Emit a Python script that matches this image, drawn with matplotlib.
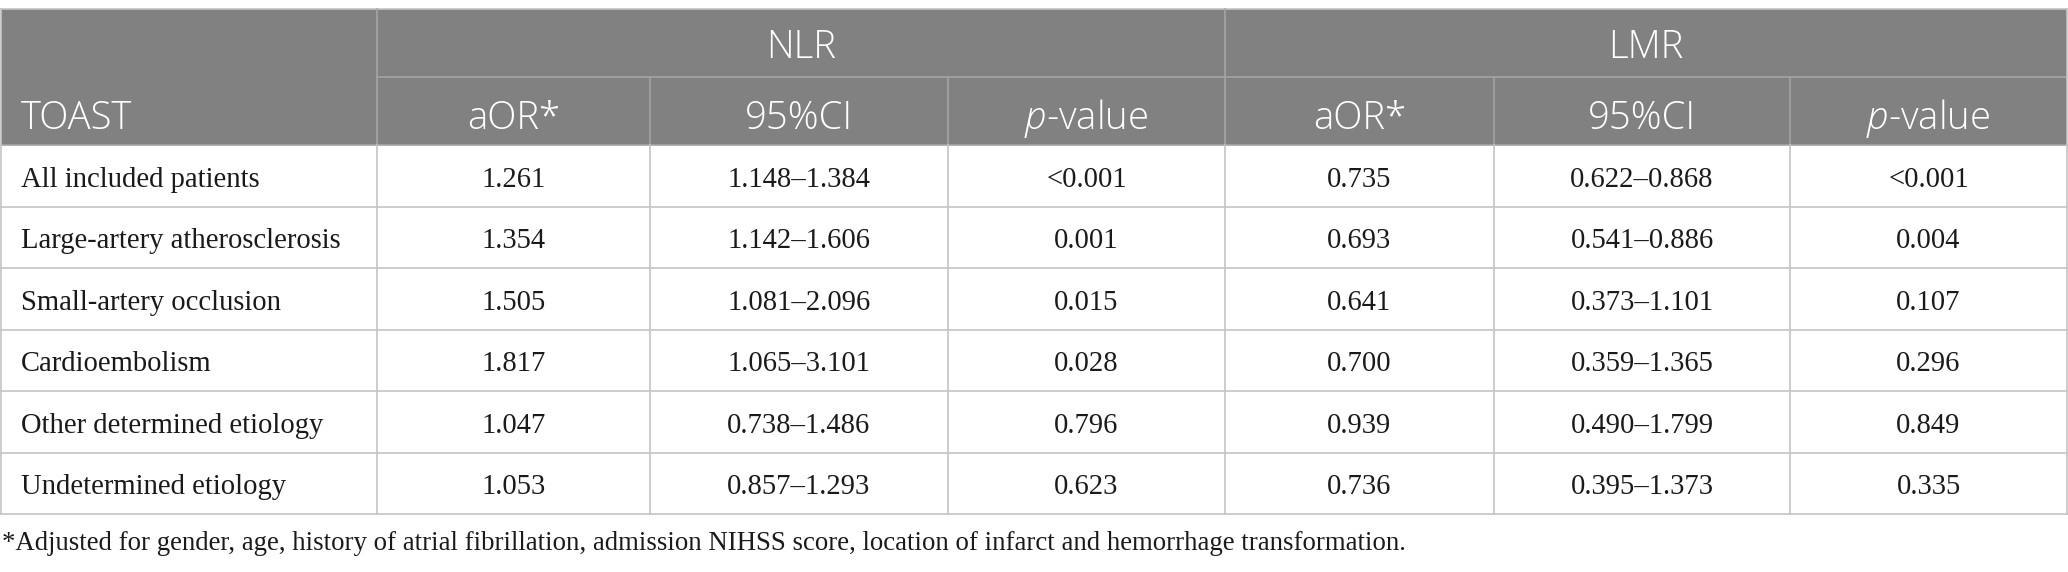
import matplotlib
matplotlib.use("Agg")
import matplotlib.pyplot as plt

# ---------------- data ----------------
groups = ["NLR", "LMR"]
sub_headers = ["aOR*", "95%CI", "p-value"]
categories = [
    "All included patients",
    "Large-artery atherosclerosis",
    "Small-artery occlusion",
    "Cardioembolism",
    "Other determined etiology",
    "Undetermined etiology",
]
nlr_aor = ["1.261", "1.354", "1.505", "1.817", "1.047", "1.053"]
nlr_ci = ["1.148\u20131.384", "1.142\u20131.606", "1.081\u20132.096",
          "1.065\u20133.101", "0.738\u20131.486", "0.857\u20131.293"]
nlr_p = ["<0.001", "0.001", "0.015", "0.028", "0.796", "0.623"]
lmr_aor = ["0.735", "0.693", "0.641", "0.700", "0.939", "0.736"]
lmr_ci = ["0.622\u20130.868", "0.541\u20130.886", "0.373\u20131.101",
          "0.359\u20131.365", "0.490\u20131.799", "0.395\u20131.373"]
lmr_p = ["<0.001", "0.004", "0.107", "0.296", "0.849", "0.335"]
footnote = ("*Adjusted for gender, age, history of atrial fibrillation, admission NIHSS "
            "score, location of infarct and hemorrhage transformation.")

# ---------------- layout ----------------
W, H = 2068, 572
col_edges = [1, 377, 650, 948, 1225, 1494, 1790, 2067]
y_top, y_sub, y_head = 9, 77, 145
row_h = 61.5
n_rows = len(categories)
y_bot = y_head + row_h * n_rows

header_bg = "#808180"
head_line = "#a4a5a4"
body_line = "#c4c4c4"
text_col = "#1a1a1a"

plt.rcParams['mathtext.fontset'] = 'custom'
plt.rcParams['mathtext.it'] = 'Open Sans:italic:light'
plt.rcParams['mathtext.rm'] = 'Open Sans:light'

fig = plt.figure(figsize=(W / 100, H / 100), dpi=100)
ax = fig.add_axes([0, 0, 1, 1])
ax.set_xlim(0, W)
ax.set_ylim(H, 0)
ax.axis("off")

# header background
ax.fill_between([col_edges[0], col_edges[-1]], y_top, y_head, color=header_bg, lw=0)

lw = 1.2
# header lines
ax.plot([col_edges[0], col_edges[-1]], [y_top, y_top], color=body_line, lw=lw)
ax.plot([col_edges[1], col_edges[-1]], [y_sub, y_sub], color=head_line, lw=lw)
for i, x in enumerate(col_edges[1:-1], start=1):
    if i in (1, 4):
        ax.plot([x, x], [y_top, y_head], color=head_line, lw=lw)
    else:
        ax.plot([x, x], [y_sub, y_head], color=head_line, lw=lw)
ax.plot([col_edges[0], col_edges[-1]], [y_head, y_head], color=head_line, lw=lw)

# body lines
for r in range(1, n_rows + 1):
    y = y_head + row_h * r
    ax.plot([col_edges[0], col_edges[-1]], [y, y], color=body_line, lw=lw)
for x in col_edges:
    ax.plot([x, x], [y_head, y_bot], color=body_line, lw=lw)
for x in (col_edges[0], col_edges[-1]):
    ax.plot([x, x], [y_top, y_head], color=body_line, lw=lw)

hfont = dict(family="Open Sans", fontsize=27.5, color="white", weight="light")
bfont = dict(family="Liberation Serif", fontsize=20.6, color=text_col)

# group headers
for g, name in enumerate(groups):
    x0, x1 = col_edges[1 + 3 * g], col_edges[4 + 3 * g]
    ax.text((x0 + x1) / 2, (y_top + y_sub) / 2 + 5, name, ha="center", va="center", **hfont)
ax.text(21, (y_sub + y_head) / 2 + 8, "TOAST", ha="left", va="center", **hfont)
labels = {"aOR*": "aOR*", "95%CI": "95%CI", "p-value": r"$\mathit{p}$-value"}
for g in range(2):
    for j, sh in enumerate(sub_headers):
        c = 1 + 3 * g + j
        xc = (col_edges[c] + col_edges[c + 1]) / 2
        ax.text(xc, (y_sub + y_head) / 2 + 8, labels[sh], ha="center", va="center", **hfont)

# body
cols = [nlr_aor, nlr_ci, nlr_p, lmr_aor, lmr_ci, lmr_p]
for r, cat in enumerate(categories):
    yc = y_head + row_h * (r + 0.5) + 4
    ax.text(21, yc, cat, ha="left", va="center", **bfont)
    for j, colvals in enumerate(cols):
        c = 1 + j
        xc = (col_edges[c] + col_edges[c + 1]) / 2
        ax.text(xc, yc, colvals[r], ha="center", va="center", **bfont)

ax.text(2, 543, footnote, ha="left", va="center", family="Liberation Serif",
        fontsize=19.3, color=text_col)

fig.savefig("out.png", dpi=100)
